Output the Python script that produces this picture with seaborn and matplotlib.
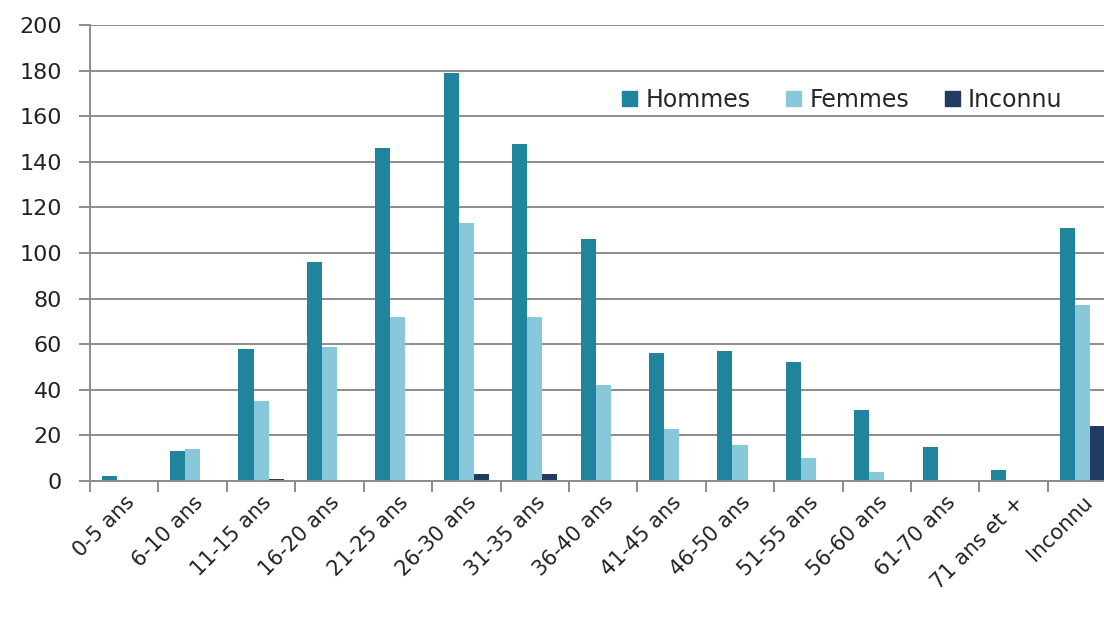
import pandas as pd
import seaborn as sns
import matplotlib.pyplot as plt
from matplotlib.ticker import FixedLocator

age_groups = ["0-5 ans", "6-10 ans", "11-15 ans", "16-20 ans", "21-25 ans",
              "26-30 ans", "31-35 ans", "36-40 ans", "41-45 ans", "46-50 ans",
              "51-55 ans", "56-60 ans", "61-70 ans", "71 ans et +", "Inconnu"]
hommes = [2, 13, 58, 96, 146, 179, 148, 106, 56, 57, 52, 31, 15, 5, 111]
femmes = [0, 14, 35, 59, 72, 113, 72, 42, 23, 16, 10, 4, 0, 0, 77]
inconnu = [0, 0, 1, 0, 0, 3, 3, 0, 0, 0, 0, 0, 0, 0, 24]
series = ["Hommes", "Femmes", "Inconnu"]
colors = ["#1f849c", "#88c8da", "#213c62"]

rows = []
for i, grp in enumerate(age_groups):
    for name, vals in zip(series, [hommes, femmes, inconnu]):
        rows.append({"Age": grp, "Sexe": name, "Nombre": vals[i]})
df = pd.DataFrame(rows)

sns.set_theme(style="white")
plt.rcParams["font.family"] = ["DejaVu Sans"]

fig = plt.figure(figsize=(11.04, 6.21), dpi=100)
ax = fig.add_axes([0.0815, 0.2254, 0.9185, 0.7343])

sns.barplot(data=df, x="Age", y="Nombre", hue="Sexe", order=age_groups,
            hue_order=series, palette=colors, width=0.66, saturation=1,
            ax=ax, edgecolor="none", legend=False)

n = len(age_groups)
ax.set_ylim(0, 200)
# the last category is cut by the right edge of the picture
ax.set_xlim(-0.5, 14.32)
ax.set_yticks(range(0, 201, 20))
ax.yaxis.grid(True, color="#8c8c8c", linewidth=1.4)
ax.set_axisbelow(True)

for side in ["top", "right"]:
    ax.spines[side].set_visible(False)
for side in ["left", "bottom"]:
    ax.spines[side].set_color("#8c8c8c")
    ax.spines[side].set_linewidth(1.4)

ax.set_xticks(range(n))
ax.set_xticklabels(age_groups, rotation=45, ha="right", rotation_mode="anchor",
                   fontsize=15, color="#222222")
ax.xaxis.set_minor_locator(FixedLocator([i + 0.5 for i in range(-1, n)]))
ax.tick_params(axis="x", which="major", length=0, pad=8)
ax.tick_params(axis="x", which="minor", length=8, width=1.4, color="#8c8c8c",
               bottom=True)
ax.tick_params(axis="y", length=8, width=1.4, color="#8c8c8c", left=True,
               labelsize=16, labelcolor="#222222", pad=12)
ax.set_xlabel("")
ax.set_ylabel("")

handles = [plt.Rectangle((0, 0), 1, 1, color=c) for c in colors]
leg = ax.legend(handles, series, ncol=3, loc="center right",
                bbox_to_anchor=(0.972, 0.836), fontsize=17, frameon=True,
                facecolor="white", edgecolor="none", framealpha=1,
                fancybox=False, handlelength=0.65, handleheight=0.65,
                handletextpad=0.35, columnspacing=1.5, borderpad=0.05)

fig.savefig("out.png", dpi=100)
